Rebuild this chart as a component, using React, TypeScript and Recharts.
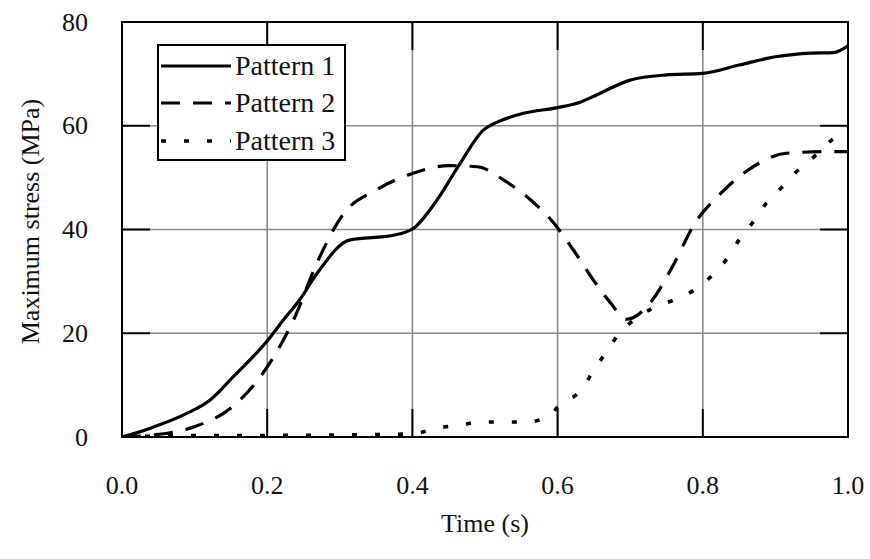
import React from "react";
import {
  LineChart,
  Line,
  XAxis,
  YAxis,
  CartesianGrid,
  Legend,
  ReferenceArea,
} from "recharts";

// time (s) / max stress (MPa)
const p1Time = [0, 0.02, 0.043, 0.09, 0.121, 0.153, 0.2, 0.222, 0.245, 0.269, 0.314, 0.374, 0.402, 0.434, 0.466, 0.498, 0.517, 0.553, 0.6, 0.632, 0.65, 0.7, 0.75, 0.8, 0.85, 0.9, 0.95, 0.98, 1.0];
const p1Stress = [0, 0.8, 1.9, 4.6, 7.1, 11.6, 18.5, 22.5, 26.5, 31.6, 38, 38.9, 40.3, 45.7, 52.8, 59.2, 60.7, 62.4, 63.5, 64.6, 65.7, 68.8, 69.8, 70.1, 71.7, 73.3, 74, 74.1, 75.4];

const p2Time = [0, 0.05, 0.1, 0.15, 0.2, 0.236, 0.27, 0.305, 0.35, 0.4, 0.45, 0.49, 0.526, 0.563, 0.595, 0.622, 0.652, 0.672, 0.695, 0.731, 0.758, 0.79, 0.825, 0.866, 0.915, 0.97, 1.0];
const p2Stress = [0, 0.5, 2, 5.6, 13.5, 22.5, 34, 43, 47.6, 50.8, 52.3, 52.1, 49.5, 45.7, 41.2, 36, 29.7, 26, 22.7, 26.5, 32.8, 41.4, 47, 51.8, 54.7, 55, 55];

const p3Time = [0, 0.1, 0.2, 0.3, 0.4, 0.434, 0.466, 0.494, 0.526, 0.556, 0.588, 0.6, 0.632, 0.65, 0.669, 0.685, 0.71, 0.733, 0.76, 0.788, 0.811, 0.834, 0.85, 0.869, 0.887, 0.908, 0.928, 0.953, 0.977, 1.0];
const p3Stress = [0, 0.3, 0.3, 0.4, 0.6, 1.7, 2.3, 2.9, 2.9, 2.9, 3.9, 5.8, 9, 12.9, 16.8, 20, 23, 25, 26.4, 28.3, 30.9, 34.5, 38, 41.4, 45, 48, 51, 54, 57.2, 59.5];

const xTicks = [0, 0.2, 0.4, 0.6, 0.8, 1.0];
const yTicks = [0, 20, 40, 60, 80];

const toRows = (ts: number[], vs: number[]) => ts.map((t, i) => ({ t, v: vs[i] }));

const FONT = "'Liberation Serif', 'Times New Roman', serif";
const TICK_LEN = 28;
const INK = "#111";

// pattern 3 sits on the mirrored top/right axes (same domains) so those get drawn too
const SERIES = [
  { name: "Pattern 1", data: toRows(p1Time, p1Stress), dash: undefined as string | undefined, width: 3.2, xId: "b", yId: "l" },
  { name: "Pattern 2", data: toRows(p2Time, p2Stress), dash: "19 13", width: 3.2, xId: "b", yId: "l" },
  { name: "Pattern 3", data: toRows(p3Time, p3Stress), dash: "5 18", width: 3.6, xId: "top", yId: "r" },
];

const tickLine = { stroke: "#000", strokeWidth: 2 };
const frameLine = { stroke: "#000", strokeWidth: 2 };

const XTickLabel = (props: any) => {
  const { x, y, payload } = props;
  return (
    <text x={x} y={y} textAnchor="middle" dominantBaseline="central" fontFamily={FONT} fontSize={26} fill={INK}>
      {Number(payload.value).toFixed(1)}
    </text>
  );
};

const YTickLabel = (props: any) => {
  const { x, y, payload } = props;
  return (
    <text x={x} y={y} textAnchor="end" dominantBaseline="central" fontFamily={FONT} fontSize={26} fill={INK}>
      {payload.value}
    </text>
  );
};

const NoLabel = () => <g />;

const YTitle = (props: any) => {
  const { viewBox } = props;
  const cx = viewBox.x + 30;
  const cy = viewBox.y + viewBox.height / 2 - 8;
  return (
    <text
      x={cx}
      y={cy}
      transform={`rotate(-90, ${cx}, ${cy})`}
      textAnchor="middle"
      dominantBaseline="central"
      fontFamily={FONT}
      fontSize={26}
      fill={INK}
    >
      Maximum stress (MPa)
    </text>
  );
};

const LegendBox = () => (
  <div
    style={{
      border: "2px solid #000",
      background: "#fff",
      width: 185,
      height: 112,
      boxSizing: "content-box",
      fontFamily: FONT,
      fontSize: 28,
      color: INK,
      paddingTop: 1,
    }}
  >
    {SERIES.map((s) => (
      <div key={s.name} style={{ display: "flex", alignItems: "center", height: 37.5 }}>
        <svg width={76} height={10} style={{ marginLeft: 2 }}>
          <line x1={0} y1={5} x2={70} y2={5} stroke="#000" strokeWidth={s.width} strokeDasharray={s.dash} />
        </svg>
        <span style={{ marginLeft: -2, lineHeight: 1 }}>{s.name}</span>
      </div>
    ))}
  </div>
);

export default function App() {
  return (
    <div style={{ position: "absolute", left: 0, top: 0, width: 870, height: 559, background: "#fff" }}>
      <LineChart width={870} height={559} margin={{ top: 21, right: 21, bottom: 0, left: 0 }}>
        <CartesianGrid xAxisId="b" yAxisId="l" stroke="#8a8a8a" strokeWidth={1.6} />
        <XAxis
          xAxisId="b"
          type="number"
          dataKey="t"
          domain={[0, 1]}
          ticks={xTicks}
          height={122}
          tickSize={-TICK_LEN}
          tickMargin={TICK_LEN + 48}
          tickLine={tickLine}
          tick={XTickLabel}
          axisLine={frameLine}
          label={{ value: "Time (s)", position: "insideBottom", offset: 27, fontFamily: FONT, fontSize: 26, fill: INK }}
          allowDataOverflow
        />
        <XAxis
          xAxisId="top"
          orientation="top"
          type="number"
          dataKey="t"
          domain={[0, 1]}
          ticks={xTicks}
          height={1}
          tickSize={-TICK_LEN}
          tickLine={tickLine}
          tick={NoLabel}
          axisLine={frameLine}
          allowDataOverflow
        />
        <YAxis
          yAxisId="l"
          type="number"
          domain={[0, 80]}
          ticks={yTicks}
          width={122}
          tickSize={-TICK_LEN}
          tickMargin={TICK_LEN + 34}
          tickLine={tickLine}
          tick={YTickLabel}
          axisLine={frameLine}
          label={{ content: YTitle }}
          allowDataOverflow
        />
        <YAxis
          yAxisId="r"
          orientation="right"
          type="number"
          domain={[0, 80]}
          ticks={yTicks}
          width={1}
          tickSize={-TICK_LEN}
          tickLine={tickLine}
          tick={NoLabel}
          axisLine={frameLine}
          allowDataOverflow
        />
        <ReferenceArea xAxisId="b" yAxisId="l" x1={0} x2={1} y1={0} y2={80} fill="none" stroke="#000" strokeWidth={2} />
        <Legend
          layout="vertical"
          align="center"
          verticalAlign="middle"
          content={LegendBox}
          wrapperStyle={{ top: 44, left: 157, width: "auto" }}
        />
        {SERIES.map((s) => (
          <Line
            key={s.name}
            xAxisId={s.xId}
            yAxisId={s.yId}
            data={s.data}
            dataKey="v"
            name={s.name}
            type="monotone"
            stroke="#000"
            strokeWidth={s.width}
            strokeDasharray={s.dash}
            strokeLinecap="butt"
            dot={false}
            activeDot={false}
            isAnimationActive={false}
          />
        ))}
      </LineChart>
    </div>
  );
}
